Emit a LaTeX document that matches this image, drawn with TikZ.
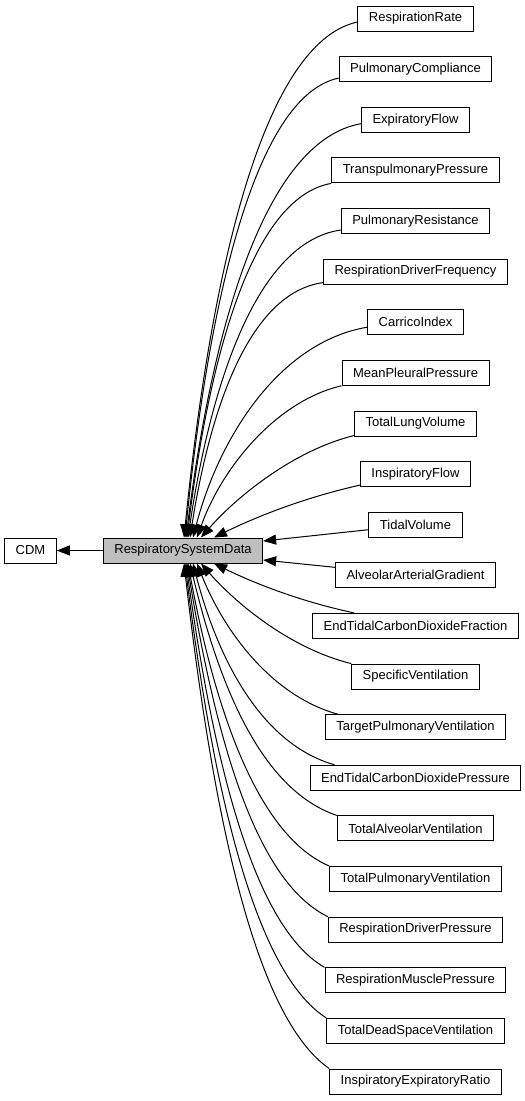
\documentclass[tikz,border=0pt]{standalone}
\usepackage{fontspec}
\setmainfont{Liberation Sans}
\usetikzlibrary{arrows.meta}
\begin{document}
\begin{tikzpicture}[x=1pt,y=-1pt,
  box/.style={draw=black, line width=1pt, fill=white, minimum height=25pt,
    inner xsep=11pt, inner ysep=0pt, font=\fontsize{13}{15}\selectfont},
  hl/.style={box, fill=gray!50},
  edge/.style={line width=1pt, draw=black, -{Triangle[length=13pt,width=10pt]}}]
\useasboundingbox (0,0) rectangle (525,1101);
% nodes
\node[box] (cdm) at (30.5,550.5) {CDM};
\node[hl] (rsd) at (183,550.5) {RespiratorySystemData};
\node[box] (n0) at (415.5,18.5) {RespirationRate};
\node[box] (n1) at (415.5,69.1) {PulmonaryCompliance};
\node[box] (n2) at (415.5,119.7) {ExpiratoryFlow};
\node[box] (n3) at (415.5,170.4) {TranspulmonaryPressure};
\node[box] (n4) at (415.5,221.0) {PulmonaryResistance};
\node[box] (n5) at (415.5,271.6) {RespirationDriverFrequency};
\node[box] (n6) at (415.5,322.2) {CarricoIndex};
\node[box] (n7) at (415.5,372.8) {MeanPleuralPressure};
\node[box] (n8) at (415.5,423.5) {TotalLungVolume};
\node[box] (n9) at (415.5,474.1) {InspiratoryFlow};
\node[box] (n10) at (415.5,524.7) {TidalVolume};
\node[box] (n11) at (415.5,575.3) {AlveolarArterialGradient};
\node[box] (n12) at (415.5,625.9) {EndTidalCarbonDioxideFraction};
\node[box] (n13) at (415.5,676.6) {SpecificVentilation};
\node[box] (n14) at (415.5,727.2) {TargetPulmonaryVentilation};
\node[box] (n15) at (415.5,777.8) {EndTidalCarbonDioxidePressure};
\node[box] (n16) at (415.5,828.4) {TotalAlveolarVentilation};
\node[box] (n17) at (415.5,879.0) {TotalPulmonaryVentilation};
\node[box] (n18) at (415.5,929.6) {RespirationDriverPressure};
\node[box] (n19) at (415.5,980.3) {RespirationMusclePressure};
\node[box] (n20) at (415.5,1030.9) {TotalDeadSpaceVentilation};
\node[box] (n21) at (415.5,1081.5) {InspiratoryExpiratoryRatio};
% edges
\draw[edge] (rsd.west) -- (cdm.east);
\draw[edge] ([yshift=-3.5pt]n0.west) .. controls +(-96,21) and +(26,-258) .. ([xshift=1pt]rsd.north);
\draw[edge] ([yshift=-9pt]n1.west) .. controls +(-85,18) and +(23,-230) .. ([xshift=2pt]rsd.north);
\draw[edge] ([yshift=-4pt]n2.west) .. controls +(-97,17) and +(26,-207) .. ([xshift=3pt]rsd.north);
\draw[edge] (n3.south west) .. controls +(-80,14) and +(22,-178) .. ([xshift=4pt]rsd.north);
\draw[edge] ([yshift=-9pt]n4.west) .. controls +(-84,12) and +(23,-154) .. ([xshift=5pt]rsd.north);
\draw[edge] ([yshift=-11pt]n5.west) .. controls +(-74,10) and +(20,-128) .. ([xshift=7pt]rsd.north);
\draw[edge] ([yshift=-5pt]n6.west) .. controls +(-88,15) and +(26,-100) .. ([xshift=10pt]rsd.north);
\draw[edge] (n7.south west) .. controls +(-65,15) and +(25,-70) .. ([xshift=14pt]rsd.north);
\draw[edge] ([yshift=-12pt]n8.west) .. controls +(-61,15) and +(35,-40) .. ([xshift=18pt]rsd.north);
\draw[edge] ([yshift=-11pt]n9.west) .. controls +(-49,11) and +(49,-24) .. ([xshift=31pt]rsd.north);
\draw[edge] ([yshift=-5pt]n10.west) -- ([yshift=9.5pt]rsd.east);
\draw[edge] ([yshift=8pt]n11.west) -- ([yshift=-9.5pt]rsd.east);
\draw[edge] ([xshift=42pt]n12.north west) .. controls +(-47,-10) and +(47,23) .. ([xshift=31pt]rsd.south);
\draw[edge] (n13.north west) .. controls +(-61,-15) and +(35,40) .. ([xshift=18pt]rsd.south);
\draw[edge] ([xshift=13pt]n14.north west) .. controls +(-65,-18) and +(28,70) .. ([xshift=14pt]rsd.south);
\draw[edge] ([xshift=25pt]n15.north west) .. controls +(-71,-20) and +(26,100) .. ([xshift=10pt]rsd.south);
\draw[edge] (n16.north west) .. controls +(-74,-25) and +(30,126) .. ([xshift=7pt]rsd.south);
\draw[edge] (n17.north west) .. controls +(-70,-30) and +(28,152) .. ([xshift=5pt]rsd.south);
\draw[edge] (n18.north west) .. controls +(-72,-35) and +(29,177) .. ([xshift=4pt]rsd.south);
\draw[edge] (n19.north west) .. controls +(-70,-40) and +(28,202) .. ([xshift=3pt]rsd.south);
\draw[edge] (n20.north west) .. controls +(-71,-45) and +(28,228) .. ([xshift=2pt]rsd.south);
\draw[edge] (n21.north west) .. controls +(-74,-51) and +(29,253) .. ([xshift=1pt]rsd.south);
\end{tikzpicture}
\end{document}
